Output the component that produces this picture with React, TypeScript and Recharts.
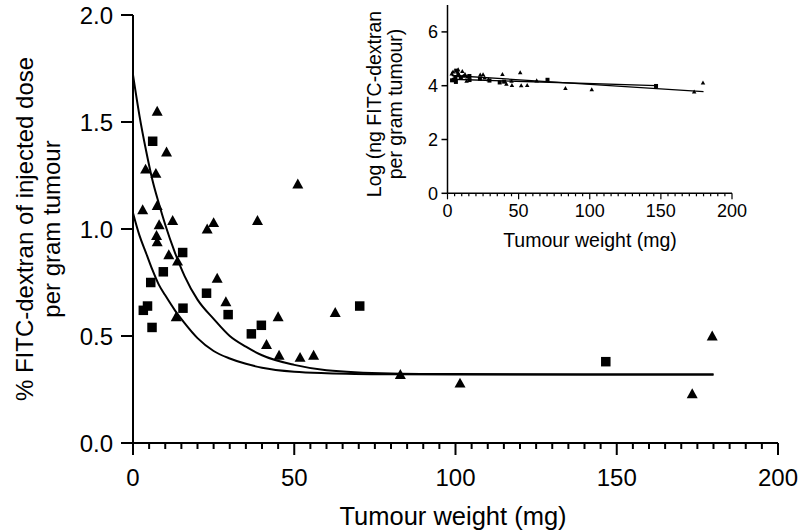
import React from "react";
import { ScatterChart, Scatter, XAxis, YAxis } from "recharts";

const FONT = '"Liberation Sans", Arial, Helvetica, sans-serif';

// triangles (group 1): tumour weight (mg), % dose per g, log ng per g
const triWeight = [7.5, 10.4, 3.9, 7.1, 51.1, 3.0, 7.5, 8.1, 12.3, 25.0, 23.0, 38.6, 7.3, 7.5, 11.1, 13.8, 26.1, 28.8, 13.4, 45.0, 41.4, 45.3, 51.8, 56.0, 62.7, 82.9, 101.4, 173.4, 179.6];
const triDose = [1.55, 1.36, 1.28, 1.26, 1.21, 1.09, 1.11, 1.02, 1.04, 1.03, 1.0, 1.04, 0.97, 0.94, 0.88, 0.85, 0.77, 0.66, 0.59, 0.59, 0.46, 0.41, 0.4, 0.41, 0.61, 0.32, 0.28, 0.23, 0.5];
const triLog = [4.6, 4.54, 4.52, 4.51, 4.49, 4.45, 4.45, 4.42, 4.43, 4.42, 4.41, 4.43, 4.4, 4.38, 4.36, 4.34, 4.3, 4.23, 4.18, 4.18, 4.07, 4.02, 4.01, 4.02, 4.19, 3.91, 3.86, 3.78, 4.11];

// squares (group 2)
const sqWeight = [6.1, 15.4, 9.4, 5.5, 22.8, 4.5, 3.2, 15.5, 29.5, 5.9, 39.8, 36.7, 70.3, 146.6];
const sqDose = [1.41, 0.89, 0.8, 0.75, 0.7, 0.64, 0.62, 0.63, 0.6, 0.54, 0.55, 0.51, 0.64, 0.38];
const sqLog = [4.56, 4.36, 4.31, 4.29, 4.26, 4.22, 4.2, 4.21, 4.19, 4.14, 4.15, 4.12, 4.22, 3.99];

// fitted decay curves
const curveWeight = [0, 2, 4, 6, 8, 10, 13, 16, 20, 25, 30, 35, 40, 50, 60, 80, 100, 140, 180];
const triCurve = [1.72, 1.53, 1.37, 1.23, 1.12, 1.02, 0.89, 0.78, 0.67, 0.58, 0.5, 0.45, 0.41, 0.365, 0.34, 0.325, 0.322, 0.32, 0.32];
const sqCurve = [1.075, 0.97, 0.89, 0.81, 0.74, 0.69, 0.62, 0.56, 0.49, 0.43, 0.395, 0.37, 0.352, 0.333, 0.326, 0.321, 0.32, 0.32, 0.32];

// inset regression lines
const triFitWeight = [3, 180];
const triFitLog = [4.38, 3.78];
const sqFitWeight = [3, 147];
const sqFitLog = [4.24, 4.0];

const mainYTicks = [0, 0.5, 1.0, 1.5, 2.0];
const insetYTicks = [0, 2, 4, 6];
const xMinorTicks = Array.from({ length: 41 }, (_, i) => i * 5);

const pts = (xs: number[], ys: number[]) => xs.map((x, i) => ({ x, y: ys[i] }));

const triMain = pts(triWeight, triDose);
const sqMain = pts(sqWeight, sqDose);
const triCurveData = pts(curveWeight, triCurve);
const sqCurveData = pts(curveWeight, sqCurve);
const triInset = pts(triWeight, triLog);
const sqInset = pts(sqWeight, sqLog);
const triFit = pts(triFitWeight, triFitLog);
const sqFit = pts(sqFitWeight, sqFitLog);

const Triangle = (size: number) => (props: any) => {
  const { cx, cy } = props;
  const h = size * 0.9;
  return (
    <polygon
      points={`${cx},${cy - h * 0.55} ${cx - size / 2},${cy + h * 0.45} ${cx + size / 2},${cy + h * 0.45}`}
      fill="#000"
    />
  );
};

const Square = (size: number) => (props: any) => {
  const { cx, cy } = props;
  return <rect x={cx - size / 2} y={cy - size / 2} width={size} height={size} fill="#000" />;
};

const NoDot = () => <g />;

const makeXTick = (majorLen: number, minorLen: number, labelDy: number, fontSize: number, sw: number) => (props: any) => {
  const { x, y, payload } = props;
  const v = payload.value;
  const major = v % 50 === 0;
  return (
    <g>
      <line x1={x} x2={x} y1={y} y2={y + (major ? majorLen : minorLen)} stroke="#000" strokeWidth={sw} />
      {major && (
        <text x={x} y={y + labelDy} textAnchor="middle" fontSize={fontSize} fill="#000" fontFamily={FONT}>
          {v}
        </text>
      )}
    </g>
  );
};

const MainXLabel = () => (
  <text x={453} y={525} textAnchor="middle" fontSize={25.5} fill="#000" fontFamily={FONT}>
    Tumour weight (mg)
  </text>
);

const MainYLabel = () => (
  <text x={33} y={229} transform="rotate(-90 33 229)" textAnchor="middle" fontSize={24} fill="#000" fontFamily={FONT}>
    <tspan x={33} dy={0}>% FITC-dextran of injected dose</tspan>
    <tspan x={33} dy={27}>per gram tumour</tspan>
  </text>
);

const InsetXLabel = () => (
  <text x={230} y={247} textAnchor="middle" fontSize={19.5} fill="#000" fontFamily={FONT}>
    Tumour weight (mg)
  </text>
);

const InsetYLabel = () => (
  <text x={21} y={104} transform="rotate(-90 21 104)" textAnchor="middle" fontSize={19.5} fill="#000" fontFamily={FONT}>
    <tspan x={21} dy={0}>Log (ng FITC-dextran</tspan>
    <tspan x={21} dy={21}>per gram tumour)</tspan>
  </text>
);

export default function App() {
  return (
    <div style={{ position: "absolute", left: 0, top: 0, width: 799, height: 532, background: "#fff" }}>
      <div style={{ position: "absolute", left: 0, top: 0 }}>
        <ScatterChart width={799} height={532} margin={{ top: 15, right: 21, left: 33, bottom: 29 }}>
          <XAxis
            dataKey="x"
            type="number"
            domain={[0, 200]}
            ticks={xMinorTicks}
            interval={0}
            height={60}
            tickSize={0}
            tickMargin={0}
            tickLine={false}
            axisLine={{ stroke: "#000", strokeWidth: 2 }}
            tick={makeXTick(12, 6, 43, 24, 2)}
            label={<MainXLabel />}
          />
          <YAxis
            dataKey="y"
            type="number"
            domain={[0, 2]}
            ticks={mainYTicks}
            interval={0}
            width={100}
            tickSize={12}
            tickMargin={8}
            tickFormatter={(v: number) => v.toFixed(1)}
            tick={{ fontSize: 24, fill: "#000", fontFamily: FONT }}
            tickLine={{ stroke: "#000", strokeWidth: 2 }}
            axisLine={{ stroke: "#000", strokeWidth: 2 }}
            label={<MainYLabel />}
          />
          <Scatter data={triCurveData} line={{ stroke: "#000", strokeWidth: 2 }} lineJointType="monotoneX" shape={NoDot} isAnimationActive={false} />
          <Scatter data={sqCurveData} line={{ stroke: "#000", strokeWidth: 2 }} lineJointType="monotoneX" shape={NoDot} isAnimationActive={false} />
          <Scatter data={triMain} shape={Triangle(11)} isAnimationActive={false} />
          <Scatter data={sqMain} shape={Square(9.5)} isAnimationActive={false} />
        </ScatterChart>
      </div>
      <div style={{ position: "absolute", left: 360, top: 0 }}>
        <ScatterChart width={400} height={260} margin={{ top: 5, right: 28, left: 27.5, bottom: 26.7 }}>
          <XAxis
            dataKey="x"
            type="number"
            domain={[0, 200]}
            ticks={xMinorTicks}
            interval={0}
            height={40}
            tickSize={0}
            tickMargin={0}
            tickLine={false}
            axisLine={{ stroke: "#000", strokeWidth: 1.5 }}
            tick={makeXTick(6, 3, 24, 18, 1.2)}
            label={<InsetXLabel />}
          />
          <YAxis
            dataKey="y"
            type="number"
            domain={[0, 7]}
            ticks={insetYTicks}
            interval={0}
            width={60}
            tickSize={6}
            tickMargin={3.5}
            tick={{ fontSize: 18, fill: "#000", fontFamily: FONT }}
            tickLine={{ stroke: "#000", strokeWidth: 1.5 }}
            axisLine={{ stroke: "#000", strokeWidth: 1.5 }}
            label={<InsetYLabel />}
          />
          <Scatter data={triFit} line={{ stroke: "#000", strokeWidth: 1.3 }} shape={NoDot} isAnimationActive={false} />
          <Scatter data={sqFit} line={{ stroke: "#000", strokeWidth: 1.3 }} shape={NoDot} isAnimationActive={false} />
          <Scatter data={triInset} shape={Triangle(4.5)} isAnimationActive={false} />
          <Scatter data={sqInset} shape={Square(4)} isAnimationActive={false} />
        </ScatterChart>
      </div>
    </div>
  );
}
